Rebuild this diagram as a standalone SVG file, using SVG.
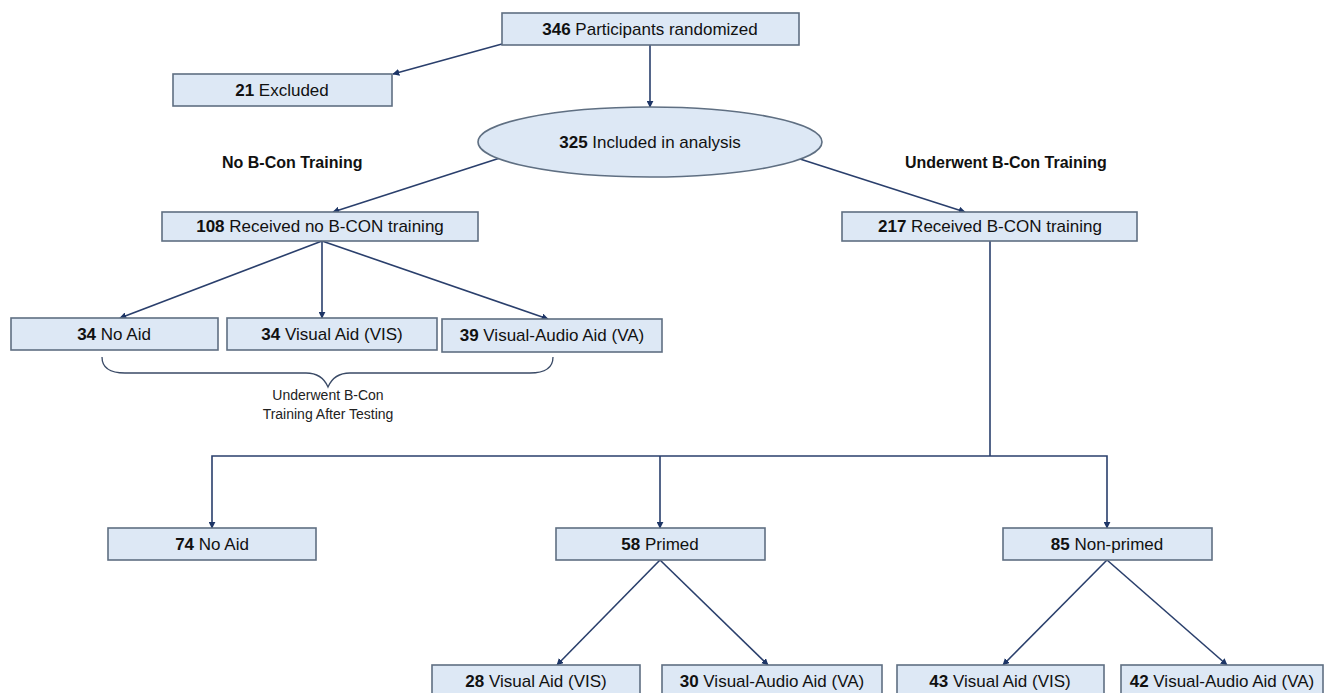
<svg xmlns="http://www.w3.org/2000/svg" width="1327" height="693" viewBox="0 0 1327 693">
<defs>
<marker id="ah" viewBox="0 0 10 10" refX="9" refY="5" markerWidth="7" markerHeight="7" markerUnits="userSpaceOnUse" orient="auto">
<path d="M0,0 L10,5 L0,10 z" fill="#1d3566"/>
</marker>
<style>
.box{fill:#dde8f5;stroke:#5f6f82;stroke-width:1.6}
.t{font-family:"Liberation Sans",Arial,sans-serif;font-size:17px;fill:#111;text-anchor:middle}
.b{font-weight:bold}
.h{font-family:"Liberation Sans",Arial,sans-serif;font-size:16px;font-weight:bold;fill:#111}
.s{font-family:"Liberation Sans",Arial,sans-serif;font-size:14px;fill:#222;text-anchor:middle}
.c{fill:none;stroke:#2a3f6c;stroke-width:1.6}
.a{marker-end:url(#ah)}
</style>
</defs>
<rect width="1327" height="693" fill="#ffffff"/>
<g id="connectors">
<line class="c a" x1="502" y1="44" x2="393" y2="74"/>
<line class="c a" x1="650" y1="45" x2="650" y2="107"/>
<line class="c a" x1="500" y1="158" x2="333" y2="212"/>
<line class="c a" x1="800" y1="159" x2="965" y2="212"/>
<line class="c a" x1="322" y1="241" x2="120" y2="318"/>
<line class="c a" x1="322" y1="241" x2="322" y2="318"/>
<line class="c a" x1="322" y1="241" x2="548" y2="319"/>
<polyline class="c" points="990,241 990,456"/>
<polyline class="c a" points="990,456 212,456 212,528"/>
<line class="c a" x1="660" y1="456" x2="660" y2="528"/>
<polyline class="c a" points="990,456 1107,456 1107,528"/>
<line class="c a" x1="660" y1="560" x2="557" y2="665"/>
<line class="c a" x1="660" y1="560" x2="768" y2="665"/>
<line class="c a" x1="1107" y1="560" x2="1003" y2="665"/>
<line class="c a" x1="1107" y1="560" x2="1227" y2="665"/>
</g>
<g id="n346"><rect class="box" x="502" y="13" width="297" height="32"/><text class="t" x="650" y="35"><tspan class="b">346</tspan> Participants randomized</text></g>
<g id="n21"><rect class="box" x="173" y="74" width="219" height="32"/><text class="t" x="282" y="96"><tspan class="b">21</tspan> Excluded</text></g>
<g id="n325"><ellipse cx="650" cy="142" rx="172" ry="35" fill="#dde8f5" stroke="#5f6f82" stroke-width="1.6"/><text class="t" x="650" y="148"><tspan class="b">325</tspan> Included in analysis</text></g>
<g id="lblNo"><text class="h" x="222" y="168">No B-Con Training</text></g>
<g id="lblYes"><text class="h" x="905" y="168">Underwent B-Con Training</text></g>
<g id="n108"><rect class="box" x="162" y="212" width="316" height="29"/><text class="t" x="320" y="232"><tspan class="b">108</tspan> Received no B-CON training</text></g>
<g id="n217"><rect class="box" x="842" y="212" width="295" height="29"/><text class="t" x="990" y="232"><tspan class="b">217</tspan> Received B-CON training</text></g>
<g id="n34a"><rect class="box" x="11" y="318" width="207" height="32"/><text class="t" x="114" y="340"><tspan class="b">34</tspan> No Aid</text></g>
<g id="n34v"><rect class="box" x="227" y="318" width="210" height="32"/><text class="t" x="332" y="340"><tspan class="b">34</tspan> Visual Aid (VIS)</text></g>
<g id="n39"><rect class="box" x="442" y="319" width="220" height="33"/><text class="t" x="552" y="341"><tspan class="b">39</tspan> Visual-Audio Aid (VA)</text></g>
<g id="brace"><path class="c" d="M102,357 Q102,373 125,373 L306,373 Q322,373 328,387 Q334,373 350,373 L530,373 Q553,373 553,357" style="stroke:#3a4a66;stroke-width:1.3"/>
<text class="s" x="328" y="400">Underwent B-Con</text><text class="s" x="328" y="419">Training After Testing</text></g>
<g id="n74"><rect class="box" x="108" y="528" width="208" height="32"/><text class="t" x="212" y="550"><tspan class="b">74</tspan> No Aid</text></g>
<g id="n58"><rect class="box" x="556" y="528" width="209" height="32"/><text class="t" x="660" y="550"><tspan class="b">58</tspan> Primed</text></g>
<g id="n85"><rect class="box" x="1003" y="528" width="209" height="32"/><text class="t" x="1107" y="550"><tspan class="b">85</tspan> Non-primed</text></g>
<g id="n28"><rect class="box" x="432" y="665" width="208" height="34"/><text class="t" x="536" y="687"><tspan class="b">28</tspan> Visual Aid (VIS)</text></g>
<g id="n30"><rect class="box" x="662" y="665" width="220" height="34"/><text class="t" x="772" y="687"><tspan class="b">30</tspan> Visual-Audio Aid (VA)</text></g>
<g id="n43"><rect class="box" x="897" y="665" width="207" height="34"/><text class="t" x="1000" y="687"><tspan class="b">43</tspan> Visual Aid (VIS)</text></g>
<g id="n42"><rect class="box" x="1121" y="665" width="202" height="34"/><text class="t" x="1222" y="687"><tspan class="b">42</tspan> Visual-Audio Aid (VA)</text></g>
</svg>
